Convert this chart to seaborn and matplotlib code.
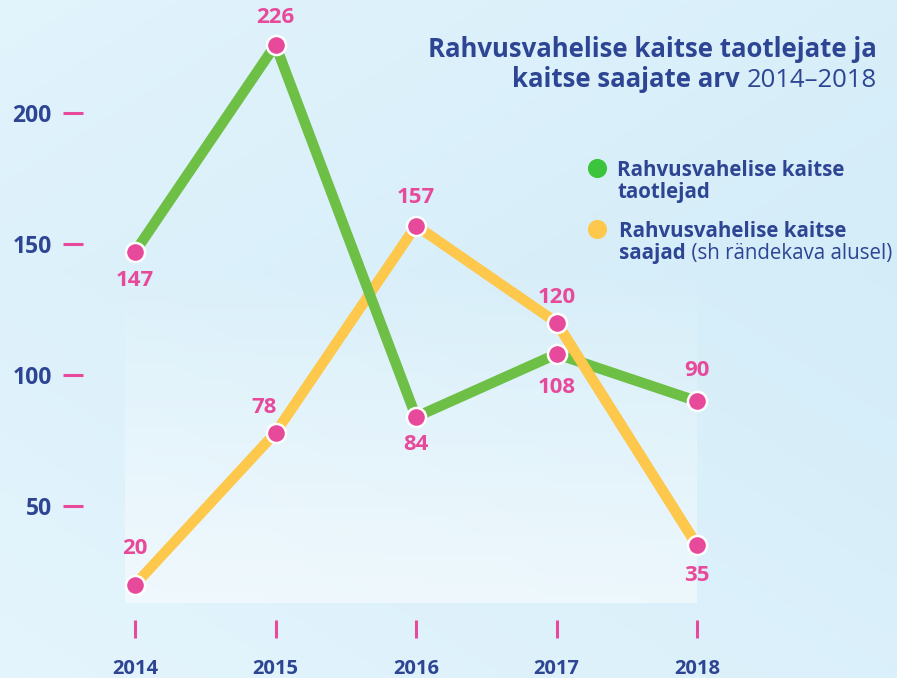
import numpy as np
import pandas as pd
import matplotlib.pyplot as plt
import seaborn as sns
from matplotlib.colors import to_rgb

# Data
years = [2014, 2015, 2016, 2017, 2018]
taotlejad = [147, 226, 84, 108, 90]
saajad = [20, 78, 157, 120, 35]
yticks = [50, 100, 150, 200]

title_line1 = "Rahvusvahelise kaitse taotlejate ja"
title_line2_bold = "kaitse saajate arv"
title_line2_reg = "2014–2018"
leg1_lines = ["Rahvusvahelise kaitse", "taotlejad"]
leg2_lines = ["Rahvusvahelise kaitse", "saajad"]
leg2_note = " (sh rändekava alusel)"

# value label offsets in points (dx, dy)
off_taotlejad = [(0, -21), (0, 20), (0, -20), (0, -24), (0, 22)]
off_saajad = [(0, 26), (-8, 18), (0, 20), (0, 18), (0, -22)]

# Colours
GREEN = "#6dbf45"
YELLOW = "#fdc84b"
PINK = "#e84a9b"
NAVY = "#2d4593"
DOT_GREEN = "#3cc43c"

W, H = 897, 678
sns.set_style("white")
plt.rcParams['font.family'] = ['Open Sans', 'DejaVu Sans']

fig = plt.figure(figsize=(W / 100, H / 100), dpi=100)


def px(x, y):
    return x / W, 1 - y / H


# --- background gradient ---
bg = fig.add_axes([0, 0, 1, 1], zorder=-5)
gx, gy = np.meshgrid(np.linspace(0, 1, 300), np.linspace(0, 1, 300))
c1 = np.array(to_rgb("#e3f4fc"))
c2 = np.array(to_rgb("#d0ebf8"))
t = np.clip(0.5 * gx + 0.3 * (1 - np.abs(gy - 0.4) * 2), 0, 1)
img = c1[None, None, :] * (1 - t[..., None]) + c2[None, None, :] * t[..., None]
bg.imshow(img, extent=[0, W, H, 0], aspect='auto')
# lighter panel behind the chart
panel = np.ones((200, 2, 4))
panel[..., 3] = np.linspace(0.0, 0.5, 200)[:, None]
bg.imshow(panel, extent=[125, 697, 603, 260], aspect='auto')
# legend dots
bg.scatter([597], [168], s=190, color=DOT_GREEN, linewidth=0)
bg.scatter([597], [229], s=190, color=YELLOW, linewidth=0)
bg.set_xlim(0, W)
bg.set_ylim(H, 0)
bg.axis('off')

# --- main axes ---
ax = fig.add_axes([83 / W, 58 / H, 1 - 83 / W, 620 / H])
ax.set_facecolor('none')

df = pd.DataFrame({
    'year': years * 2,
    'value': taotlejad + saajad,
    'series': ['taotlejad'] * len(years) + ['saajad'] * len(years),
})

sns.lineplot(data=df, x='year', y='value', hue='series',
             hue_order=['saajad', 'taotlejad'],
             palette={'saajad': YELLOW, 'taotlejad': GREEN},
             linewidth=7.5, legend=False, ax=ax, zorder=2)
# yellow crosses over green on the last segment
last = df[(df['series'] == 'saajad') & (df['year'] >= 2017)]
sns.lineplot(data=last, x='year', y='value', color=YELLOW,
             linewidth=7.5, legend=False, ax=ax, zorder=2.5)

sns.scatterplot(data=df, x='year', y='value', color=PINK, s=190,
                edgecolor='white', linewidth=1.8, legend=False, ax=ax, zorder=4)

for vals, offs in [(taotlejad, off_taotlejad), (saajad, off_saajad)]:
    for x, v, (dx, dy) in zip(years, vals, offs):
        ax.annotate(str(v), (x, v), xytext=(dx, dy), textcoords='offset points',
                    ha='center', va='center', color=PINK, fontsize=16,
                    fontweight='bold', zorder=5)

ax.set_xlim(2013.630, 2019.423)
ax.set_ylim(6.5, 243.1)
ax.set_xlabel('')
ax.set_ylabel('')
ax.set_yticks(yticks, labels=[str(v) for v in yticks], fontweight='bold')
ax.set_xticks(years, labels=[str(y) for y in years], fontweight='bold')
ax.tick_params(axis='y', direction='out', length=14.4, width=2.2, color=PINK,
               pad=8, labelsize=16.5, labelcolor=NAVY, left=True)
ax.tick_params(axis='x', direction='out', length=13, width=2.2, color=PINK,
               pad=15, labelsize=14.5, labelcolor=NAVY, bottom=True)
for s in ax.spines.values():
    s.set_visible(False)

# --- title ---
fig.text(*px(877, 57), title_line1, ha='right', va='baseline',
         fontsize=18.5, fontweight='bold', color=NAVY)
reg = fig.text(*px(877, 87), title_line2_reg, ha='right', va='baseline',
               fontsize=18.5, color=NAVY)
ax.annotate(title_line2_bold + " ", xy=(0, 0), xycoords=reg, ha='right',
            va='bottom', fontsize=18.5, fontweight='bold', color=NAVY,
            annotation_clip=False)

# --- legend ---
fig.text(*px(617, 176), leg1_lines[0], ha='left', va='baseline',
         fontsize=14.8, fontweight='bold', color=NAVY)
fig.text(*px(617, 198), leg1_lines[1], ha='left', va='baseline',
         fontsize=14.8, fontweight='bold', color=NAVY)
fig.text(*px(619, 237), leg2_lines[0], ha='left', va='baseline',
         fontsize=14.8, fontweight='bold', color=NAVY)
sa = fig.text(*px(619, 259), leg2_lines[1], ha='left', va='baseline',
              fontsize=14.8, fontweight='bold', color=NAVY)
ax.annotate(leg2_note, xy=(1, 0), xycoords=sa, ha='left', va='bottom',
            fontsize=14.8, color=NAVY, annotation_clip=False)

fig.savefig("out.png", dpi=100)
